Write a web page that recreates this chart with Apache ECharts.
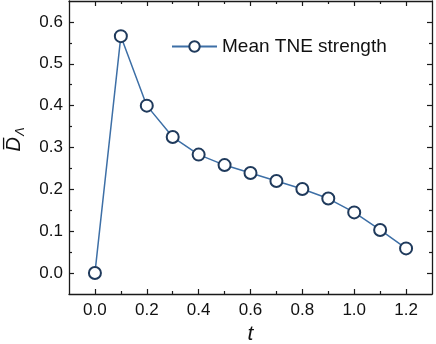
<!DOCTYPE html>
<html>
<head>
<meta charset="utf-8">
<script src="https://cdn.jsdelivr.net/npm/echarts@6/dist/echarts.min.js"></script>
<style>
  html, body { margin: 0; padding: 0; background: #fff; }
  #main { width: 436px; height: 344px; }
</style>
</head>
<body>
<div id="main"></div>
<script>
// data
const tValues = [0.0, 0.1, 0.2, 0.3, 0.4, 0.5, 0.6, 0.7, 0.8, 0.9, 1.0, 1.1, 1.2];
const meanStrength = [0.0, 0.566, 0.400, 0.325, 0.283, 0.258, 0.239, 0.220, 0.201, 0.178, 0.145, 0.103, 0.059];

const xMajorTicks = [0.0, 0.2, 0.4, 0.6, 0.8, 1.0, 1.2];
const xMinorTicks = [0.1, 0.3, 0.5, 0.7, 0.9, 1.1];
const yMajorTicks = [0.0, 0.1, 0.2, 0.3, 0.4, 0.5, 0.6];
const yMinorTicks = [0.05, 0.15, 0.25, 0.35, 0.45, 0.55];

const axisColor = '#1a1a1a';
const font = 'Liberation Sans, Arial, sans-serif';

function tickAxis(pos, values, len, withLine, withLabel) {
    return {
        type: 'value',
        position: pos,
        axisLine: { show: withLine, onZero: false, lineStyle: { color: axisColor, width: 1.3 } },
        axisTick: { show: true, inside: true, length: len, customValues: values, lineStyle: { color: axisColor, width: 1.2 } },
        axisLabel: withLabel ? {
            show: true, customValues: values, color: '#111', fontSize: 17, fontFamily: font,
            formatter: v => v.toFixed(1)
        } : { show: false },
        splitLine: { show: false }
    };
}

const chart = echarts.init(document.querySelector('#main'));

const xs = [
    tickAxis('bottom', xMajorTicks, 5, true, true),
    tickAxis('bottom', xMinorTicks, 3, false, false),
    tickAxis('top', xMajorTicks, 5, true, false),
    tickAxis('top', xMinorTicks, 3, false, false)
].map(a => Object.assign(a, { min: -0.1, max: 1.3 }));
xs[0].axisLabel.margin = 8;
xs[0].name = 't';
xs[0].nameLocation = 'middle';
xs[0].nameGap = 23;
xs[0].nameTextStyle = { fontSize: 21, fontStyle: 'italic', fontFamily: font, color: '#111' };

const ys = [
    tickAxis('left', yMajorTicks, 5, true, true),
    tickAxis('left', yMinorTicks, 3, false, false),
    tickAxis('right', yMajorTicks, 5, true, false),
    tickAxis('right', yMinorTicks, 3, false, false)
].map(a => Object.assign(a, { min: -0.05, max: 0.65 }));
ys[0].axisLabel.margin = 6;
ys[0].name = '{d|D\u0305}{s|\u039B}';
ys[0].nameLocation = 'middle';
ys[0].nameGap = 42;
ys[0].nameTextStyle = {
    padding: [0, 0, 0, 16],
    rich: {
        d: { fontSize: 20, fontStyle: 'italic', fontFamily: font, color: '#111' },
        s: { fontSize: 13, fontStyle: 'italic', fontFamily: font, color: '#111', padding: [12, 0, 0, 1] }
    }
};

let option = {
    animation: false,
    grid: { left: 69, right: 4, top: 1, bottom: 50, containLabel: false, outerBoundsMode: 'none' },
    legend: {
        left: 166,
        top: 32,
        itemWidth: 45,
        itemHeight: 13,
        textStyle: { fontSize: 19, fontFamily: font, color: '#111' },
        data: ['Mean TNE strength']
    },
    xAxis: xs,
    yAxis: ys,
    series: [
        {
            name: 'Mean TNE strength',
            type: 'line',
            data: tValues.map((t, i) => [t, meanStrength[i]]),
            symbol: 'emptyCircle',
            symbolSize: 12,
            lineStyle: { color: '#3d6fa6', width: 1.5 },
            itemStyle: { color: '#1f3a5c', borderWidth: 1.8 }
        }
    ]
};
chart.setOption(option);
</script>
</body>
</html>
